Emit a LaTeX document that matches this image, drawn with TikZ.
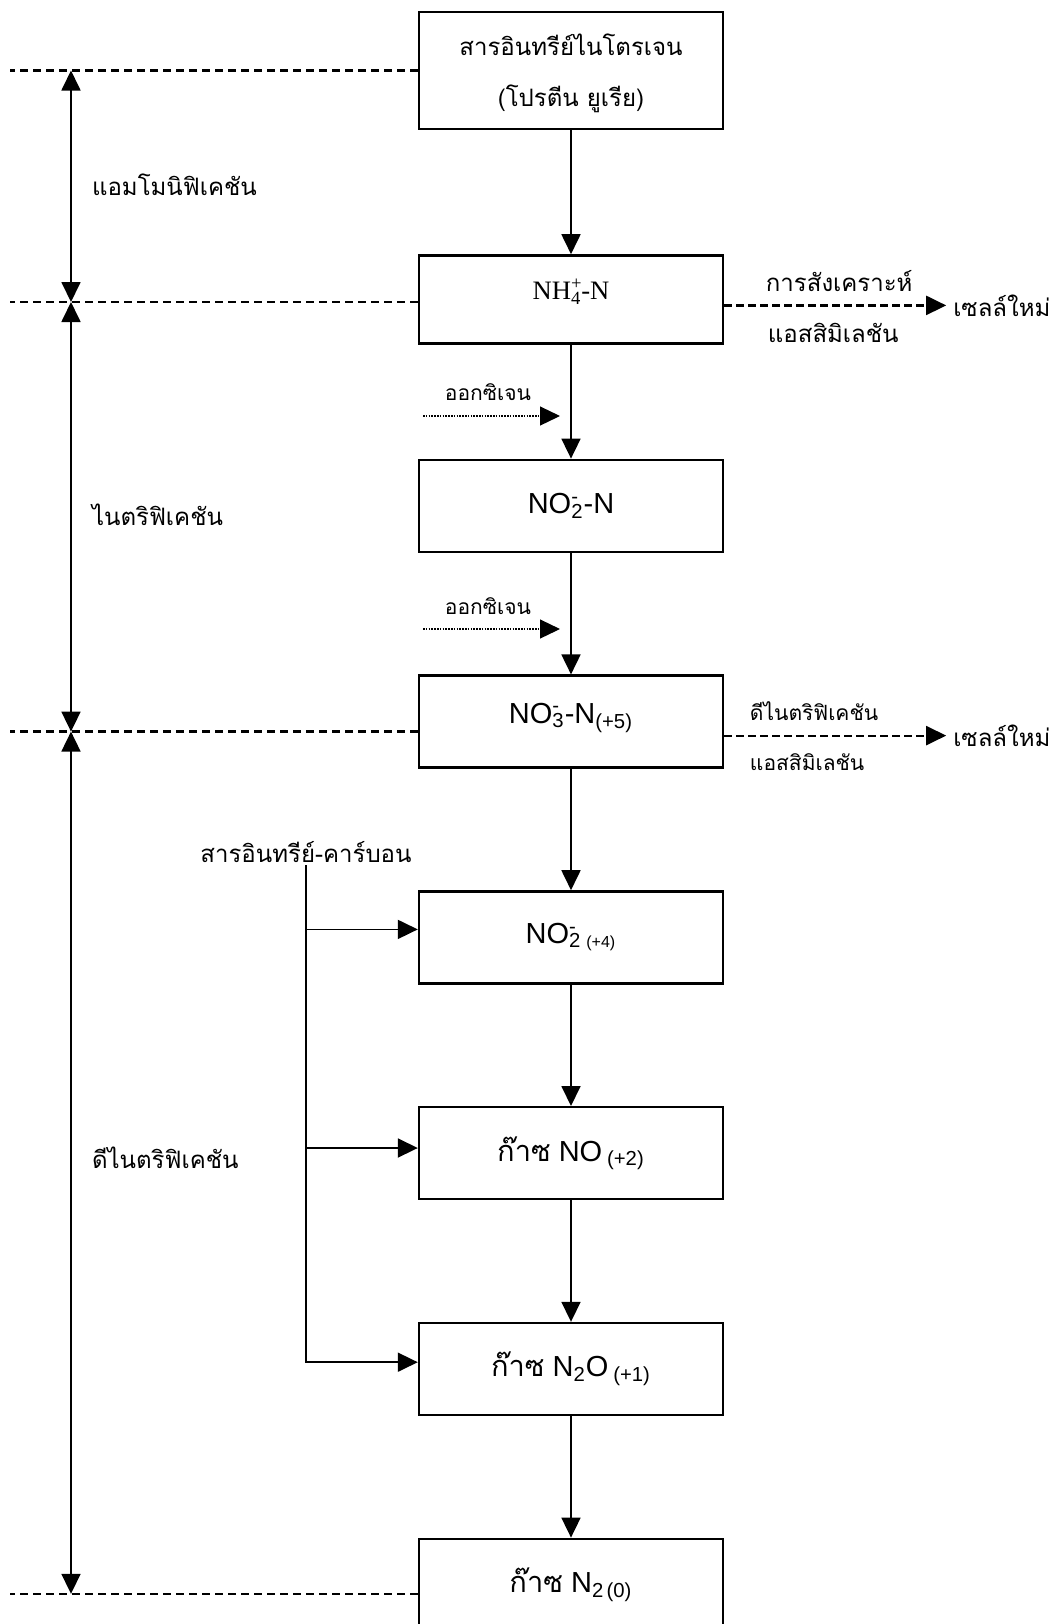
\documentclass[tikz,border=0pt]{standalone}
\usepackage{fontspec}
\setmainfont{Liberation Sans}
\newfontfamily\thai[Script=Thai]{Loma}
\newfontfamily\timesf{Liberation Serif}
\usetikzlibrary{arrows.meta, positioning}

% charge above, count below, stacked
\newcommand{\ionsub}[2]{\makebox[0pt][l]{\textsuperscript{#2}}\textsubscript{#1}}

\begin{document}
\begin{tikzpicture}[
        x=0.5pt, y=-0.5pt,
        font=\fontsize{14.5}{17}\selectfont,
        node distance=60.7pt,
        box/.style={
            draw,
            line width=1.2pt,
            align=center,
            minimum width=152pt,
            minimum height=46pt,
            inner sep=0pt
        },
        thaitext/.style={
            font=\thai\fontsize{12}{25.5}\selectfont,
            align=center
        },
        smallthai/.style={
            font=\thai\fontsize{10.5}{13}\selectfont
        },
        arrow/.style={
            -{Triangle[length=10pt, width=9.5pt]},
            line width=0.9pt
        },
        twoway/.style={
            {Triangle[length=10pt, width=9.5pt]}-{Triangle[length=10pt, width=9.5pt]},
            line width=0.9pt
        },
        border/.style={
            dash pattern=on 4pt off 2.5pt,
            line width=1.2pt
        },
        cellarrow/.style={
            -{Triangle[length=10pt, width=9.5pt]},
            dash pattern=on 4pt off 2pt,
            line width=1.1pt
        },
        oxyarrow/.style={
            -{Triangle[length=10pt, width=9.5pt]},
            dash pattern=on 0.8pt off 0.6pt,
            line width=0.6pt
        }
    ]

    \useasboundingbox (0,0) rectangle (1049,1624);

    % the chain of nitrogen forms
    \node[box, thaitext, minimum height=58.5pt] (orgn) at (571,70.5)
        {\raisebox{-4.5pt}{\begin{tabular}{@{}c@{}}สารอินทรีย์ไนโตรเจน\\(โปรตีน ยูเรีย)\end{tabular}}};
    \node[box, minimum height=44pt, below=62pt of orgn] (nh4)
        {\raisebox{10pt}{\timesf\fontsize{13.3}{15}\selectfont NH\ionsub{4}{+}-N}};
    \node[box, below=57pt of nh4] (no2) {NO\ionsub{2}{-}-N};
    \node[box, below=of no2] (no3) {\raisebox{8.5pt}{NO\ionsub{3}{-}-N\textsubscript{(+5)}}};
    \node[box, below=of no3] (no2b) {\raisebox{4pt}{NO\ionsub{2}{-}\,\textsubscript{\footnotesize(+4)}}};
    \node[box, below=of no2b] (nogas) {{\thai ก๊าซ} NO\,\textsubscript{(+2)}};
    \node[box, below=of nogas] (n2o) {{\thai ก๊าซ} N\textsubscript{2}O\,\textsubscript{(+1)}};
    \node[box, below=of n2o] (n2) {{\thai ก๊าซ} N\textsubscript{2\,(0)}};

    \foreach \a/\b in {orgn/nh4, nh4/no2, no2/no3, no3/no2b, no2b/nogas, nogas/n2o, n2o/n2}
        \draw[arrow] (\a) -- (\b);

    % stage borders on the left
    \coordinate (edge) at (10,0);
    \coordinate (axis) at (71,0);
    \coordinate (lv1) at (orgn.west);
    \coordinate (lv2) at ([yshift=-1.3pt]nh4.west);
    \coordinate (lv3) at ([yshift=-5pt]no3.west);
    \coordinate (lv4) at ([yshift=-4.5pt]n2.west);

    \foreach \l in {lv1, lv2, lv3, lv4}
        \draw[border] (\l) -- (\l -| edge);
    \foreach \a/\b in {lv1/lv2, lv2/lv3, lv3/lv4}
        \draw[twoway] (\a -| axis) -- (\b -| axis);

    \node[thaitext, anchor=west] (ammon) at (85,185) {แอมโมนิฟิเคชัน};
    \node[thaitext, anchor=west] (nitri) at (85,515) {ไนตริฟิเคชัน};
    \node[thaitext, anchor=west] (denit) at (85,1158) {ดีไนตริฟิเคชัน};

    % new cells
    \node[thaitext, anchor=west] (cell1) at ([xshift=111pt, yshift=-3pt]nh4.east) {เซลล์ใหม่};
    \node[thaitext, anchor=west] (cell2) at ([xshift=111pt, yshift=-7pt]no3.east) {เซลล์ใหม่};

    \draw[cellarrow] ([yshift=-3pt]nh4.east) -- (cell1.west)
        node[thaitext, at start, anchor=west, xshift=17pt, yshift=12pt] {การสังเคราะห์}
        node[thaitext, at start, anchor=west, xshift=18pt, yshift=-14pt] {แอสสิมิเลชัน};
    \draw[cellarrow] ([yshift=-7pt]no3.east) -- (cell2.west)
        node[smallthai, at start, anchor=west, xshift=9pt, yshift=12pt] {ดีไนตริฟิเคชัน}
        node[smallthai, at start, anchor=west, xshift=9pt, yshift=-13.5pt] {แอสสิมิเลชัน};

    % oxygen
    \coordinate (ox1) at (423,416);
    \coordinate (ox2) at (423,629);
    \draw[oxyarrow] (ox1) -- ++(137,0);
    \draw[oxyarrow] (ox2) -- ++(137,0);
    \node[smallthai] (oxy1) at (488,392) {ออกซิเจน};
    \node[smallthai] (oxy2) at (488,606) {ออกซิเจน};

    % organic carbon
    \node[thaitext, inner sep=1pt] (carbon) at (306,852) {สารอินทรีย์-คาร์บอน};
    \foreach \b/\dy in {no2b/4pt, nogas/2.6pt, n2o/3.4pt}
        \draw[arrow] (carbon.south) |- ([yshift=\dy]\b.west);

\end{tikzpicture}
\end{document}
